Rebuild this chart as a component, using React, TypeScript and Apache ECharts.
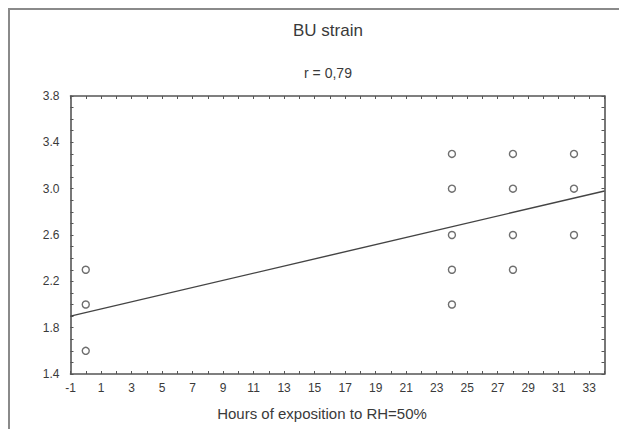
import React, { useEffect, useRef } from "react";
import * as echarts from "echarts";

const titleText = "BU strain";
const subtitleText = "r = 0,79";
const xAxisName = "Hours of exposition to RH=50%";

// observed points: [hours, value]
const pointsAt0 = [
  [0, 1.6],
  [0, 2.0],
  [0, 2.3],
];
const pointsAt24 = [
  [24, 2.0],
  [24, 2.3],
  [24, 2.6],
  [24, 3.0],
  [24, 3.3],
];
const pointsAt28 = [
  [28, 2.3],
  [28, 2.6],
  [28, 3.0],
  [28, 3.3],
];
const pointsAt32 = [
  [32, 2.6],
  [32, 3.0],
  [32, 3.3],
];
// fitted line endpoints
const fitLine = [
  [-1, 1.9],
  [34, 2.98],
];

const xMin = -1;
const xMax = 34;
const yMin = 1.4;
const yMax = 3.8;

const FONT = "Liberation Sans, Arial, sans-serif";
const TEXT = "#3a3a3a";
const LINE = "#555555";

export default function App() {
  const ref = useRef<HTMLDivElement>(null);
  useEffect(() => {
    if (!ref.current) return;
    const chart = echarts.init(ref.current, undefined, { renderer: "svg" });
    const xLabel = (v: number) => {
      const r = Math.round(v);
      return Math.abs(r % 2) === 1 ? String(r) : "";
    };
    const yLabel = (v: number) => {
      const r = Math.round(v * 10);
      return r % 4 === 2 ? (r / 10).toFixed(1) : "";
    };
    const tick = { show: true, inside: true, length: 3, lineStyle: { color: LINE, width: 1 } };
    const axisLine = { show: true, onZero: false, lineStyle: { color: LINE, width: 1.6 } };
    const allPoints = [...pointsAt0, ...pointsAt24, ...pointsAt28, ...pointsAt32];
    chart.setOption({
      animation: false,
      backgroundColor: "#ffffff",
      textStyle: { fontFamily: FONT },
      graphic: [
        {
          type: "rect",
          shape: { x: 9, y: 9, width: 700, height: 600 },
          style: { fill: "none", stroke: "#8a8a8a", lineWidth: 2 },
          silent: true,
        },
        {
          type: "text",
          style: {
            text: titleText,
            x: 328,
            y: 30,
            textAlign: "center",
            textVerticalAlign: "middle",
            font: `normal 17px ${FONT}`,
            fill: TEXT,
          },
          silent: true,
        },
        {
          type: "text",
          style: {
            text: subtitleText,
            x: 328,
            y: 73,
            textAlign: "center",
            textVerticalAlign: "middle",
            font: `normal 14px ${FONT}`,
            fill: TEXT,
          },
          silent: true,
        },
        {
          type: "text",
          style: {
            text: xAxisName,
            x: 322,
            y: 413,
            textAlign: "center",
            textVerticalAlign: "middle",
            font: `normal 15px ${FONT}`,
            fill: TEXT,
          },
          silent: true,
        },
      ],
      grid: { left: 70.5, right: 14.5, top: 96, bottom: 55, containLabel: false },
      xAxis: [
        {
          type: "value",
          min: xMin,
          max: xMax,
          interval: 1,
          position: "bottom",
          axisLine,
          axisTick: tick,
          axisLabel: {
            formatter: xLabel,
            fontFamily: FONT,
            fontSize: 12,
            color: TEXT,
            margin: 8,
            showMinLabel: true,
            showMaxLabel: true,
            hideOverlap: false,
          },
          splitLine: { show: false },
        },
        {
          type: "value",
          min: xMin,
          max: xMax,
          interval: 1,
          position: "top",
          axisLine,
          axisTick: tick,
          axisLabel: { show: false },
          splitLine: { show: false },
        },
      ],
      yAxis: [
        {
          type: "value",
          min: yMin,
          max: yMax,
          interval: 0.1,
          position: "left",
          axisLine,
          axisTick: tick,
          axisLabel: {
            formatter: yLabel,
            fontFamily: FONT,
            fontSize: 12,
            color: TEXT,
            margin: 11,
            showMinLabel: true,
            showMaxLabel: true,
            hideOverlap: false,
          },
          splitLine: { show: false },
        },
        {
          type: "value",
          min: yMin,
          max: yMax,
          interval: 0.1,
          position: "right",
          axisLine,
          axisTick: tick,
          axisLabel: { show: false },
          splitLine: { show: false },
        },
      ],
      series: [
        {
          type: "line",
          data: fitLine,
          xAxisIndex: 0,
          yAxisIndex: 0,
          symbol: "none",
          lineStyle: { color: "#444444", width: 1.4 },
          silent: true,
          z: 2,
        },
        {
          type: "scatter",
          data: allPoints,
          xAxisIndex: 0,
          yAxisIndex: 0,
          symbol: "circle",
          symbolSize: 7,
          itemStyle: { color: "#ffffff", borderColor: "#4a4a4a", borderWidth: 1.4 },
          z: 3,
        },
      ],
    });
    return () => chart.dispose();
  }, []);
  return (
    <div
      ref={ref}
      style={{ position: "absolute", left: 0, top: 0, width: 619, height: 429 }}
    />
  );
}
